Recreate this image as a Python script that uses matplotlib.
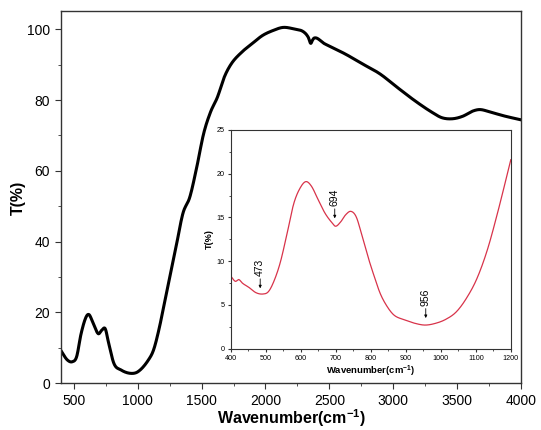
import matplotlib.pyplot as plt
from matplotlib.ticker import MultipleLocator
import numpy as np

plt.rcParams['font.family'] = ['Liberation Sans', 'DejaVu Sans']
plt.rcParams['mathtext.default'] = 'regular'

# main FTIR spectrum
wn = [400, 449, 489, 522, 557, 597, 619, 651, 692, 719, 746, 773, 814, 868,
      949, 1003, 1084, 1124, 1165, 1219, 1300, 1354, 1408, 1462, 1516, 1570,
      1624, 1678, 1732, 1814, 1895, 1976, 2057, 2138, 2219, 2300, 2335, 2354,
      2368, 2381, 2462, 2624, 2759, 2895, 3030, 3165, 3300, 3381, 3462, 3543,
      3624, 3678, 3759, 3868, 4000]
trans = [9.2, 6.6, 6.1, 7.5, 14.0, 18.8, 19.4, 17.0, 14.0, 15.0, 15.4, 11.3,
         5.6, 3.8, 2.8, 3.3, 6.6, 9.4, 15.0, 24.4, 38.5, 48.0, 52.6, 61.0,
         70.5, 76.6, 80.8, 86.5, 90.2, 93.5, 95.9, 98.2, 99.6, 100.5, 100.1,
         99.2, 97.7, 96.0, 96.9, 97.5, 95.9, 93.0, 90.2, 87.4, 83.6, 79.9,
         76.6, 75.0, 74.7, 75.4, 76.9, 77.3, 76.6, 75.5, 74.4]

# inset, 400-1200 cm-1
wn_in = [400, 413, 423, 433, 452, 472, 492, 507, 521, 541, 561, 580, 600, 615,
         630, 650, 669, 689, 699, 714, 728, 743, 758, 773, 792, 807, 827, 847,
         866, 896, 926, 955, 985, 1014, 1044, 1073, 1103, 1133, 1162, 1200]
trans_in = [8.3, 7.7, 7.9, 7.5, 7.0, 6.4, 6.25, 6.5, 7.5, 9.8, 13.2, 16.6,
            18.5, 19.1, 18.6, 17.0, 15.5, 14.4, 14.0, 14.5, 15.3, 15.7, 15.1,
            13.2, 10.5, 8.6, 6.3, 4.8, 3.85, 3.3, 2.9, 2.7, 2.9, 3.35, 4.2,
            5.75, 8.0, 11.3, 15.5, 21.6]

# peak labels and where their arrows point
peaks = ['473', '694', '956']
arrow_x = [484, 697, 957]
arrow_y = [6.9, 14.9, 3.5]


def smooth(x, y, n=600):
    # cubic hermite through the read points
    x = np.asarray(x, float)
    y = np.asarray(y, float)
    xs = np.linspace(x[0], x[-1], n)
    h = np.diff(x)
    d = np.diff(y) / h
    m = np.zeros_like(y)
    m[1:-1] = (d[:-1] + d[1:]) / 2
    m[0], m[-1] = d[0], d[-1]
    idx = np.clip(np.searchsorted(x, xs) - 1, 0, len(h) - 1)
    t = (xs - x[idx]) / h[idx]
    h00 = 2 * t**3 - 3 * t**2 + 1
    h10 = t**3 - 2 * t**2 + t
    h01 = -2 * t**3 + 3 * t**2
    h11 = t**3 - t**2
    ys = h00 * y[idx] + h10 * h[idx] * m[idx] + h01 * y[idx + 1] + h11 * h[idx] * m[idx + 1]
    return xs, ys


fig = plt.figure(figsize=(5.41, 4.30), dpi=100)
ax = fig.add_axes([0.1128, 0.1086, 0.8503, 0.8647])

xs, ys = smooth(wn, trans, 1500)
ax.plot(xs, ys, color='black', lw=2.2)
ax.set_xlim(400, 4000)
ax.set_ylim(0, 105)
ax.xaxis.set_major_locator(MultipleLocator(500))
ax.xaxis.set_minor_locator(MultipleLocator(250))
ax.yaxis.set_major_locator(MultipleLocator(20))
ax.yaxis.set_minor_locator(MultipleLocator(10))
ax.tick_params(which='both', direction='out', top=False, right=False,
               labelsize=10, color='#333333')
ax.tick_params(axis='x', pad=3)
ax.tick_params(which='major', length=4.5)
ax.tick_params(which='minor', length=2.5)
for s in ax.spines.values():
    s.set_color('#333333')
    s.set_linewidth(1.0)
ax.set_xlabel('Wavenumber(cm$^{-1}$)', fontsize=11.5, fontweight='bold', labelpad=-0.5)
ax.set_ylabel('T(%)', fontsize=11.5, fontweight='bold', labelpad=1)

ins = fig.add_axes([0.4266, 0.1891, 0.5176, 0.5086])
xi, yi = smooth(wn_in, trans_in, 800)
ins.plot(xi, yi, color='#d8334a', lw=0.9)
ins.set_xlim(400, 1200)
ins.set_ylim(0, 25)
ins.xaxis.set_major_locator(MultipleLocator(100))
ins.xaxis.set_minor_locator(MultipleLocator(50))
ins.yaxis.set_major_locator(MultipleLocator(5))
ins.yaxis.set_minor_locator(MultipleLocator(2.5))
ins.tick_params(which='both', direction='out', top=False, right=False,
                labelsize=5.2, color='#333333', pad=2)
ins.tick_params(which='major', length=2.5)
ins.tick_params(which='minor', length=1.5)
for s in ins.spines.values():
    s.set_color('#333333')
    s.set_linewidth(0.8)
ins.set_xlabel('Wavenumber(cm$^{-1}$)', fontsize=6.8, fontweight='bold', labelpad=1.5)
ins.set_ylabel('T(%)', fontsize=6.5, fontweight='bold', labelpad=2)

for lab, px, py in zip(peaks, arrow_x, arrow_y):
    ins.annotate(lab, xy=(px, py), xytext=(px, py + 1.4),
                 fontsize=7.5, rotation=90, ha='center', va='bottom',
                 arrowprops=dict(arrowstyle='-|>', color='black', lw=0.6,
                                 mutation_scale=4, shrinkA=0, shrinkB=0))

fig.savefig('out.png', dpi=100)
